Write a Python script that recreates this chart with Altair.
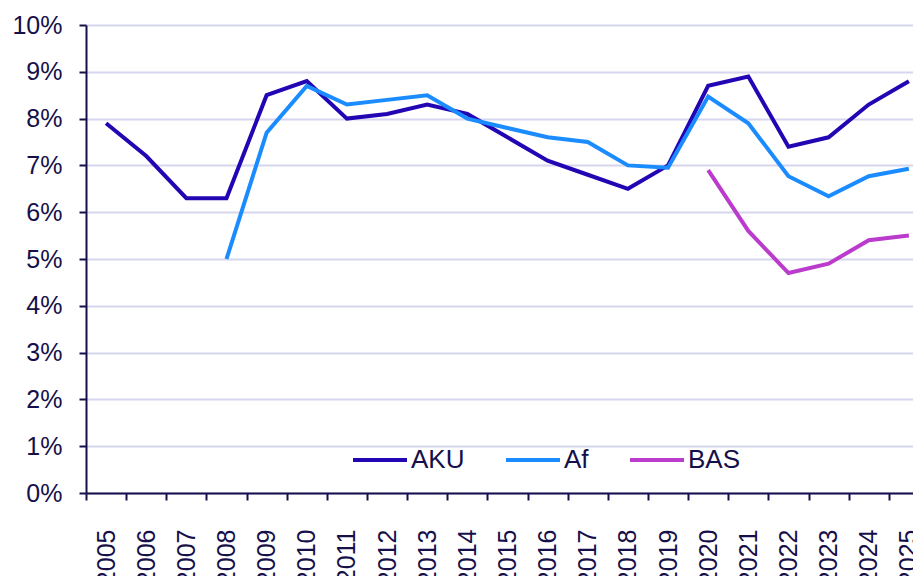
import altair as alt
import pandas as pd

years = list(range(2005, 2026))
aku = [7.9, 7.2, 6.3, 6.3, 8.5, 8.8, 8.0, 8.1, 8.3, 8.1, 7.6, 7.1, 6.8, 6.5, 7.0,
       8.7, 8.9, 7.4, 7.6, 8.3, 8.8]
af = [None, None, None, 5.0, 7.7, 8.7, 8.3, 8.4, 8.5, 8.0, 7.8, 7.6, 7.5, 7.0, 6.95,
      8.47, 7.9, 6.77, 6.34, 6.77, 6.93]
bas = [None] * 15 + [6.9, 5.6, 4.7, 4.9, 5.4, 5.5]

series_names = ["AKU", "Af", "BAS"]
series_values = [aku, af, bas]
series_colors = ["#2206b4", "#1b8cff", "#bb3ccc"]
y_ticks = [i / 100 for i in range(0, 11)]

rows = []
for name, vals in zip(series_names, series_values):
    for yr, v in zip(years, vals):
        if v is not None:
            rows.append({"year": yr, "value": v / 100, "series": name})
df = pd.DataFrame(rows)

ink = "#16104a"
W = 827
step = 40.14
x_lo = 2004.5
x_hi = x_lo + W / step

chart = alt.Chart(df).mark_line(strokeWidth=4, strokeJoin="miter").encode(
    x=alt.X("year:Q",
            scale=alt.Scale(domain=[x_lo, x_hi], nice=False, zero=False),
            axis=alt.Axis(title=None, values=years, format="d", labelAngle=270, grid=False,
                          tickSize=7, labelPadding=29, tickOffset=-step / 2,
                          labelOffset=step / 2, labelFlush=False, labelOverlap=False)),
    y=alt.Y("value:Q", scale=alt.Scale(domain=[0, 0.1], nice=False),
            axis=alt.Axis(title=None, values=y_ticks, format=".0%", grid=True,
                          tickSize=7, labelPadding=17)),
    color=alt.Color("series:N",
                    scale=alt.Scale(domain=series_names, range=series_colors),
                    sort=series_names,
                    legend=alt.Legend(title=None, orient="none", legendX=265, legendY=406,
                                      direction="horizontal", symbolType="stroke",
                                      symbolSize=2916, symbolStrokeWidth=4,
                                      labelFontSize=26, labelFont="Liberation Sans",
                                      labelColor=ink, labelOffset=2, columnPadding=33)),
    detail="series:N",
).properties(
    width=W, height=468,
    autosize=alt.AutoSizeParams(type="none"),
    padding={"left": 78, "top": 17, "right": 0, "bottom": 83},
).configure_axis(
    labelFont="Liberation Sans", labelFontSize=25, labelColor=ink,
    domainColor=ink, domainWidth=2, tickColor=ink, tickWidth=2,
    gridColor="#d6d6ee", gridWidth=2,
).configure_view(stroke=None)

chart.save("out.html", embed_options={"renderer": "svg", "actions": False})
